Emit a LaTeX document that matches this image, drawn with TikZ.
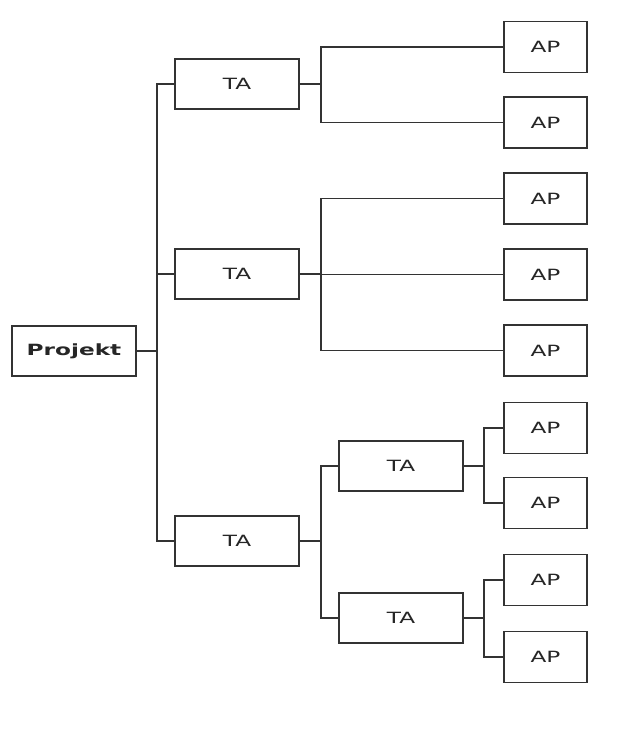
\documentclass[tikz,border=0pt]{standalone}
\usepackage{graphicx}
\usepackage{fontspec}
\setmainfont{DejaVu Sans}
\usepackage{tikz}

\newcommand{\wtxt}[1]{\scalebox{1.5}[1]{#1}}

\begin{document}
\begin{tikzpicture}[x=0.025cm,y=-0.025cm,
  box/.style={draw=black!80,line width=1.1pt,fill=white,text=black!85,minimum width=3.1cm,minimum height=1.25cm,inner sep=0pt,font=\fontsize{11}{13}\selectfont},
  apbox/.style={box,minimum width=2.075cm,minimum height=1.275cm},
  link/.style={draw=black!80,line width=1.1pt}]
\useasboundingbox (0,0) rectangle (640,746);
% root
\node[box] (proj) at (74,351) {\wtxt{\bfseries Projekt}};
% first level
\node[box] (ta1) at (237,84) {\wtxt{TA}};
\node[box] (ta2) at (237,274) {\wtxt{TA}};
\node[box] (ta3) at (237,541) {\wtxt{TA}};
% second level
\node[box] (ta31) at (401,466) {\wtxt{TA}};
\node[box] (ta32) at (401,618) {\wtxt{TA}};
% work packages
\node[apbox] (ap1) at (545.5,47) {\wtxt{AP}};
\node[apbox] (ap2) at (545.5,122.5) {\wtxt{AP}};
\node[apbox] (ap3) at (545.5,198.5) {\wtxt{AP}};
\node[apbox] (ap4) at (545.5,274.5) {\wtxt{AP}};
\node[apbox] (ap5) at (545.5,350.5) {\wtxt{AP}};
\node[apbox] (ap6) at (545.5,428) {\wtxt{AP}};
\node[apbox] (ap7) at (545.5,503) {\wtxt{AP}};
\node[apbox] (ap8) at (545.5,580) {\wtxt{AP}};
\node[apbox] (ap9) at (545.5,657) {\wtxt{AP}};
% connectors
\foreach \c in {ta1,ta2,ta3}
    \draw[link] (proj.east) -- ++(20,0) |- (\c.west);
\foreach \c in {ap1,ap2}
    \draw[link] (ta1.east) -- ++(21,0) |- (\c.west);
\foreach \c in {ap3,ap4,ap5}
    \draw[link] (ta2.east) -- ++(21,0) |- (\c.west);
\foreach \c in {ta31,ta32}
    \draw[link] (ta3.east) -- ++(21,0) |- (\c.west);
\foreach \c in {ap6,ap7}
    \draw[link] (ta31.east) -- ++(20,0) |- (\c.west);
\foreach \c in {ap8,ap9}
    \draw[link] (ta32.east) -- ++(20,0) |- (\c.west);
\end{tikzpicture}
\end{document}
